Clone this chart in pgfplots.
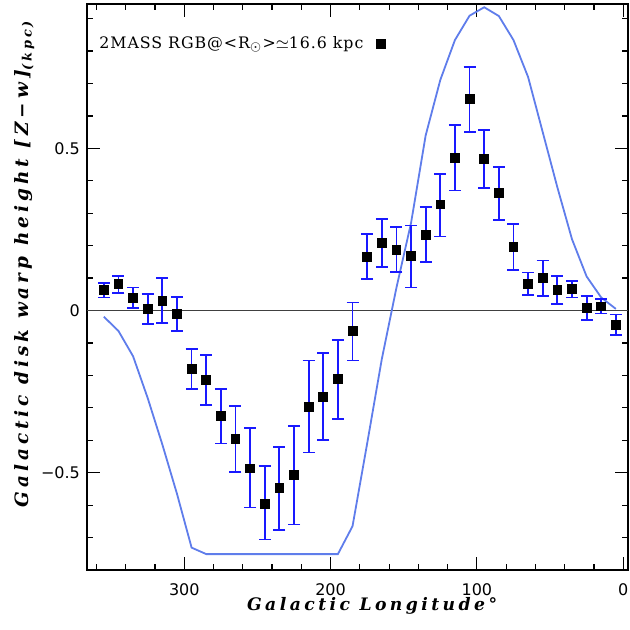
\documentclass[border=0pt]{standalone}
\usepackage{pgfplots}
\pgfplotsset{compat=1.18}
\usepackage{pgfplotstable}
\usepackage{fontspec}
\setmainfont{DejaVu Serif}
\newfontfamily\ticksfont{DejaVu Sans}
\newfontfamily\labfont{DejaVu Serif}[LetterSpace=20]
\newfontfamily\ylabfont{DejaVu Serif}[LetterSpace=22]
\newfontfamily\legfont{DejaVu Serif}[LetterSpace=6]
\definecolor{errblue}{RGB}{25,25,255}
\definecolor{modelblue}{RGB}{95,125,235}

\pgfplotstableread{
l z t b
355 0.063 0.086 0.040
345 0.081 0.106 0.054
335 0.038 0.071 0.008
325 0.004 0.051 -0.041
315 0.030 0.100 -0.038
305 -0.010 0.042 -0.062
295 -0.180 -0.119 -0.242
285 -0.215 -0.138 -0.292
275 -0.325 -0.242 -0.410
265 -0.397 -0.294 -0.497
255 -0.487 -0.363 -0.607
245 -0.595 -0.480 -0.706
235 -0.548 -0.421 -0.676
225 -0.508 -0.356 -0.660
215 -0.298 -0.154 -0.438
205 -0.267 -0.132 -0.398
195 -0.211 -0.092 -0.334
185 -0.064 0.025 -0.154
175 0.165 0.235 0.096
165 0.209 0.283 0.133
155 0.187 0.258 0.118
145 0.169 0.262 0.071
135 0.233 0.318 0.150
125 0.327 0.420 0.228
115 0.471 0.573 0.370
105 0.652 0.752 0.550
95 0.467 0.557 0.378
85 0.363 0.443 0.280
75 0.196 0.267 0.124
65 0.082 0.117 0.049
55 0.101 0.154 0.045
45 0.063 0.106 0.019
35 0.067 0.091 0.040
25 0.008 0.045 -0.029
15 0.013 0.036 -0.009
5 -0.045 -0.012 -0.076
}\warpdata

\pgfplotstableread{
l z
355 -0.019
345 -0.063
335 -0.141
325 -0.270
315 -0.413
305 -0.565
295 -0.731
285 -0.751
275 -0.751
265 -0.751
255 -0.751
245 -0.751
235 -0.751
225 -0.751
215 -0.751
205 -0.751
195 -0.751
185 -0.665
175 -0.410
165 -0.150
155 0.070
145 0.270
135 0.540
125 0.711
115 0.834
105 0.909
95 0.935
85 0.908
75 0.834
65 0.720
55 0.550
45 0.380
35 0.220
25 0.105
15 0.040
5 0.005
}\modeldata

\begin{document}
\begin{tikzpicture}[x=1pt,y=1pt]
\begin{axis}[
  at={(0,0)}, anchor=south west,
  scale only axis, width=270.5pt, height=283pt,
  x dir=reverse,
  xmin=-3.3, xmax=366.5, ymin=-0.8, ymax=0.945,
  xtick={0,100,200,300}, xticklabels={0,100,200,300},
  minor xtick={20,40,60,80,120,140,160,180,220,240,260,280,320,340,360},
  ytick={-0.5,0,0.5}, yticklabels={−0.5,0,0.5},
  minor ytick={-0.7,-0.6,-0.4,-0.3,-0.2,-0.1,0.1,0.2,0.3,0.4,0.6,0.7,0.8,0.9},
  tick align=inside,
  major tick length=6.3pt, minor tick length=3.2pt,
  tick style={black, line width=0.6pt},
  axis line style={line width=0.8pt},
  tick label style={font=\ticksfont\fontsize{8}{9}\selectfont},
  xticklabel style={yshift=-3.5pt},
  xlabel={\labfont\bfseries\itshape\fontsize{8.6}{10}\selectfont Galactic Longitude°},
  ylabel={\ylabfont\bfseries\itshape\fontsize{9.2}{10}\selectfont Galactic disk warp height [Z−w]\textsubscript{(kpc)}},
  xlabel style={at={(axis description cs:0.527,-0.0724)}, anchor=base},
  ylabel style={at={(axis description cs:-0.109,0.541)}, anchor=base},
  legend plot pos=right,
  legend style={draw=none, fill=none, at={(axis description cs:0.0148,0.929)}, anchor=west,
    font=\legfont\fontsize{7.9}{9}\selectfont, inner sep=0pt},
]
\addplot[black!75, line width=0.75pt, forget plot] coordinates {(-3.3,0) (366.5,0)};
\addplot[modelblue, line width=0.9pt, forget plot] table[x=l, y=z] {\modeldata};
\addplot[errblue, only marks, mark=square*, mark size=2.2pt,
  mark options={draw=black, fill=black},
  error bars/.cd, y dir=both, y explicit,
  error bar style={draw=errblue, line width=0.9pt},
  error mark options={rotate=90, draw=errblue, mark size=3pt, line width=0.9pt}]
  table[x=l, y=z, y error plus expr=\thisrow{t}-\thisrow{z}, y error minus expr=\thisrow{z}-\thisrow{b}] {\warpdata};
\addlegendentry{2MASS RGB@<R$_\odot$>$\simeq$16.6 kpc\hspace*{4.5pt}\rule{0pt}{1pt}}
\end{axis}
\pgfresetboundingbox
\useasboundingbox (-43.5pt,-30pt) rectangle (271.5pt,285pt);
\end{tikzpicture}
\end{document}
